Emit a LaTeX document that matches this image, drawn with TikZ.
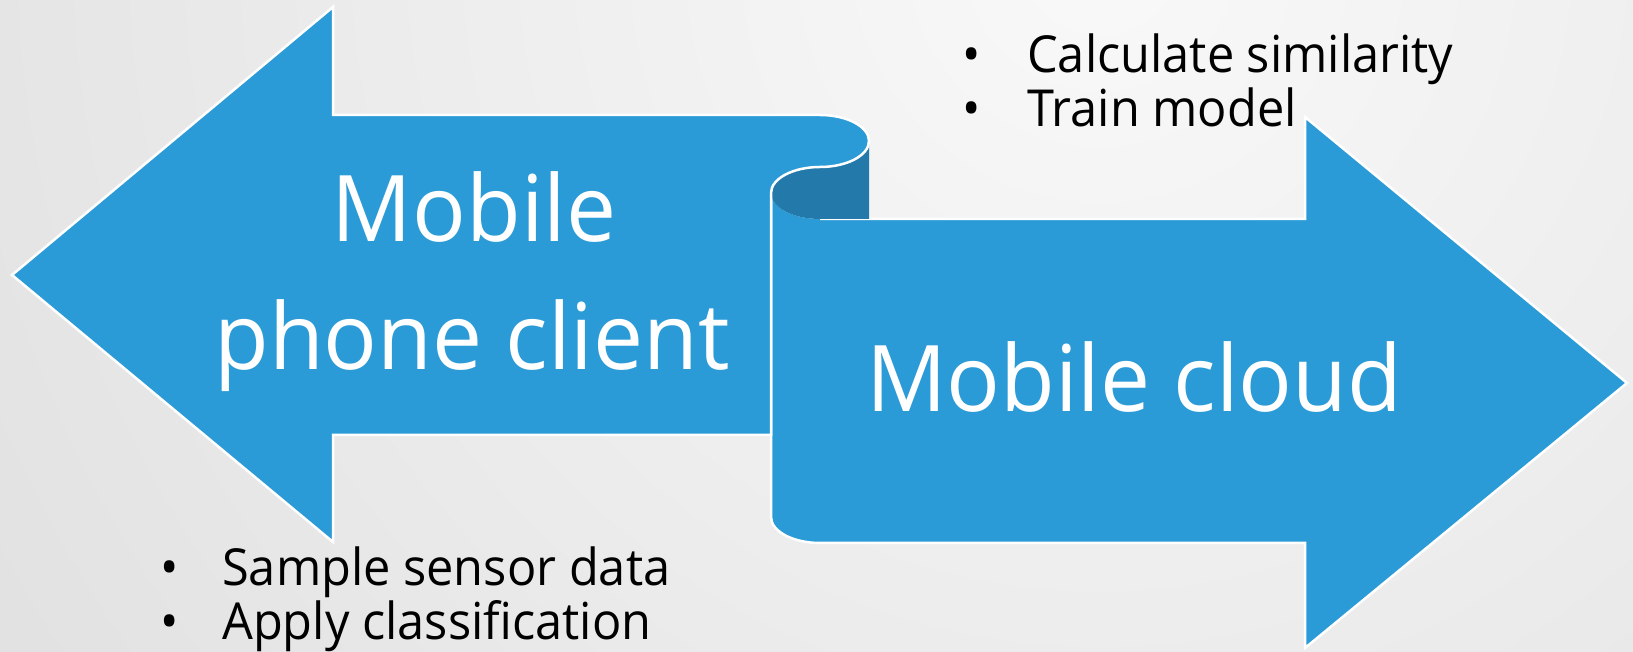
\documentclass[tikz,border=0pt]{standalone}
\usepackage{fontspec}
\setmainfont{Open Sans}
\newfontfamily\bigfont[FakeStretch=0.97]{Open Sans}
\newfontfamily\smallfont[FakeStretch=0.955]{Open Sans}
\usetikzlibrary{positioning}
\definecolor{ribblue}{RGB}{43,155,216}
\definecolor{ribdark}{RGB}{35,122,170}
\definecolor{bgin}{RGB}{249,249,249}
\definecolor{bgout}{RGB}{222,222,222}

\begin{document}
\begin{tikzpicture}[x=1pt,y=1pt,
	ribbon/.style={fill=ribblue},
	edge/.style={draw=white,line width=2.5pt,line join=miter},
	bigtxt/.style={text=white,inner sep=0pt,font=\bigfont\fontsize{92}{110}\selectfont},
	smalltxt/.style={text=black,inner sep=0pt,font=\smallfont\fontsize{51}{62}\selectfont}]
	\useasboundingbox (0,0) rectangle (1633,652);
	\begin{scope}
		\clip (0,0) rectangle (1633,652);
		\shade[inner color=bgin, outer color=bgout] (1100,700) circle (1500);
	\end{scope}
	% right arrow, cloud side
	\fill[ribbon] (771,459) -- (771,135) arc[start angle=180,end angle=270,x radius=49,y radius=26]
		-- (1305,109) -- (1305,4) -- (1627,269) -- (1305,535) -- (1305,433) -- (820,433)
		arc[start angle=270,end angle=180,x radius=49,y radius=26] -- cycle;
	\draw[edge] (820,433) -- (1305,433) -- (1305,535) -- (1627,269) -- (1305,4) -- (1305,109)
		-- (820,109) arc[start angle=270,end angle=180,x radius=49,y radius=26] -- (771,459);
	% back of the curl
	\fill[ribdark] (820,485) arc[start angle=-90,end angle=0,x radius=49,y radius=26]
		-- (869,433) -- (820,433) arc[start angle=270,end angle=90,x radius=49,y radius=26] -- cycle;
	% left arrow, phone side
	\draw[ribbon,edge] (333,537) -- (820,537) arc[start angle=90,end angle=-90,x radius=49,y radius=26]
		arc[start angle=90,end angle=180,x radius=49,y radius=26]
		-- (771,217) -- (333,217) -- (333,110) -- (12,377) -- (333,645) -- cycle;
	\node[bigtxt, anchor=base] (mob1) at (474,410) {Mobile};
	\node[bigtxt, anchor=base] (mob2) at (472,282) {phone client};
	\node[bigtxt, anchor=base] (cloud) at (1134,240) {Mobile cloud};
	% bullets
	\node[smalltxt, anchor=base] (b1) at (972,579) {•};
	\node[smalltxt, anchor=base west] (calc) at (1027,579) {Calculate similarity};
	\node[smalltxt, anchor=base] (b2) at (972,525) {•};
	\node[smalltxt, anchor=base west] (train) at (1027,525) {Train model};
	\node[smalltxt, anchor=base] (b3) at (170,66) {•};
	\node[smalltxt, anchor=base west] (samp) at (222,66) {Sample sensor data};
	\node[smalltxt, anchor=base] (b4) at (170,12) {•};
	\node[smalltxt, anchor=base west] (appl) at (222,12) {Apply classification};
\end{tikzpicture}
\end{document}
